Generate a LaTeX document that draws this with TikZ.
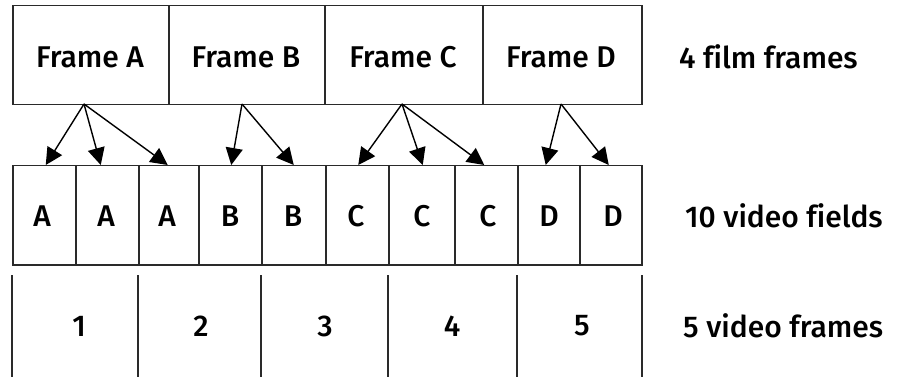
\documentclass[tikz,border=0pt]{standalone}
\usepackage{fontspec}
\setmainfont{Fira Sans Medium}[Ligatures=NoCommon]
\usetikzlibrary{arrows.meta,calc}
\definecolor{ln}{HTML}{2A2A2A}
\tikzset{
  every node/.style={font=\fontsize{30}{33}\selectfont, text=black},
  cellbox/.style={draw=ln, line width=1.5pt, inner sep=0pt, anchor=north west},
  lbl/.style={anchor=west, inner sep=0pt},
  arr/.style={draw=black, line width=1.4pt, -{Triangle[length=17pt,width=17pt]}},
  sep/.style={draw=ln, line width=1.5pt}
}
\begin{document}
\begin{tikzpicture}[x=1pt,y=-1pt]
\useasboundingbox (0,0) rectangle (905,377);
% top row
\node[cellbox, minimum width=156pt, minimum height=99pt] (fA) at (12,5) {};
\node[cellbox, minimum width=156pt, minimum height=99pt] (fB) at (168,5) {};
\node[cellbox, minimum width=158pt, minimum height=99pt] (fC) at (324,5) {};
\node[cellbox, minimum width=159pt, minimum height=99pt] (fD) at (482,5) {};
\node (tA) at (90,57) {Frame A};
\node (tB) at (246,57) {Frame B};
\node (tC) at (403,57) {Frame C};
\node (tD) at (561,57) {Frame D};
\node[lbl] (l1) at (679,57) {4 film frames};
% middle row
\foreach \n/\a/\b in {1/12/75,2/75/138,3/138/198,4/198/261,5/261/325,6/325/388,7/388/454,8/454/517,9/517/579,10/579/641}{
  \pgfmathsetmacro{\w}{\b-\a}
  \node[cellbox, minimum width=\w pt, minimum height=99pt] (c\n) at (\a,165) {};
}
\node at (42,216) {A};
\node at (106,216) {A};
\node at (167,216) {A};
\node at (230,216) {B};
\node at (293,216) {B};
\node at (356,216) {C};
\node at (422,216) {C};
\node at (488,216) {C};
\node at (549,216) {D};
\node at (613,216) {D};
\node[lbl] (l2) at (685,216) {10 video fields};
% arrows
\coordinate (sA) at (84,104);
\coordinate (sB) at (242,104);
\coordinate (sC) at (402,104);
\coordinate (sD) at (561,104);
\draw[arr] (sA) -- ($(c1.north)+(1.5,0)$);
\draw[arr] (sA) -- ($(c2.north)+(-6.5,0)$);
\draw[arr] (sA) -- ($(c3.north)+(-1,0)$);
\draw[arr] (sB) -- ($(c4.north)+(1,0)$);
\draw[arr] (sB) -- ($(c5.north)+(0,0)$);
\draw[arr] (sC) -- ($(c6.north)+(1,0)$);
\draw[arr] (sC) -- ($(c7.north)+(1,0)$);
\draw[arr] (sC) -- ($(c8.north)+(-2,0)$);
\draw[arr] (sD) -- ($(c9.north)+(-3,0)$);
\draw[arr] (sD) -- ($(c10.north)+(-2,0)$);
% bottom row
\foreach \x/\n in {12/a,138/b,261/c,388/d,517/e,642/f}{
  \coordinate (v\n1) at (\x,275);
  \coordinate (v\n2) at (\x,378);
  \draw[sep] (v\n1) -- (v\n2);
}
\node at (79,326) {1};
\node at (201,326) {2};
\node at (325,326) {3};
\node at (452,326) {4};
\node at (582,326) {5};
\node[lbl] (l3) at (683,326) {5 video frames};
\end{tikzpicture}
\end{document}
